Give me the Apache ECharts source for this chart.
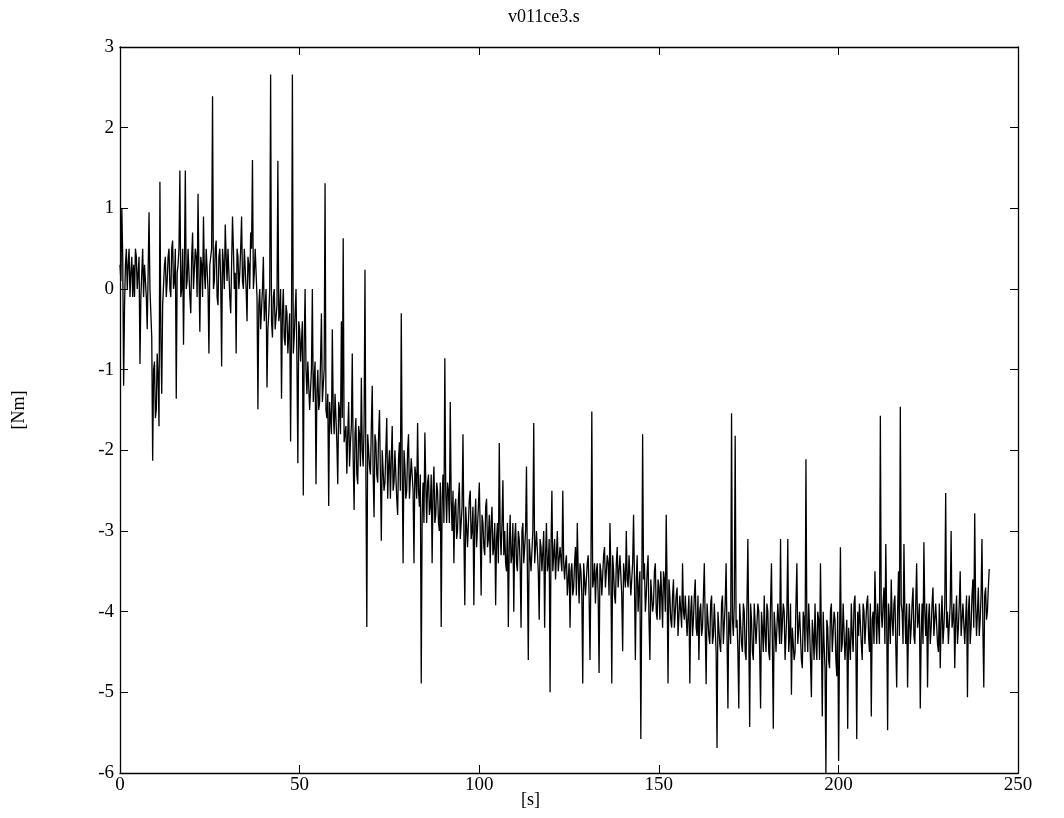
<!DOCTYPE html>
<html>
<head>
<meta charset="utf-8">
<script src="https://cdn.jsdelivr.net/npm/echarts@6/dist/echarts.min.js"></script>
<style>
  html, body { margin: 0; padding: 0; background: #fff; }
  #chart { width: 1064px; height: 818px; }
</style>
</head>
<body>
<div id="chart"></div>
<script>
// torque signal v011ce3.s, one sample every dt seconds
var dt = 0.2526;
var segA = [0.3, 0.1, 1.0, 0.4, -1.2, -0.2, 0.3, 0.5, 0.0, 0.3,
  0.5, -0.1, 0.2, 0.4, -0.1, 0.3, -0.1, 0.5, 0.4, 0.0,
  0.0, 0.4, -0.93, -0.1, 0.2, 0.5, -0.1, 0.3, 0.3, -0.1,
  -0.5, 0.2, 0.95, 0.0, -0.3, -0.6, -2.13, -1.0, -0.9, -1.6,
  -1.5, -0.8, -1.1, -1.7, 1.33, -0.6, -1.3, -0.2, -0.2, 0.3,
  0.4, -0.1, 0.1, 0.4, 0.5, 0.0, -0.1, 0.5, 0.6, 0.0,
  0.1, 0.5, -1.36, 0.2, 0.3, 0.5, 1.47, -0.1, 0.0, 0.5,
  -0.69, 0.3, 1.47, 0.0, 0.1, 0.5, 0.5, -0.1, -0.3, 0.4,
  0.7, 0.0, 0.0, 0.5, 0.4, -0.1, 1.18, 0.2];
var segB = [-0.53, 0.4, 0.3, -0.1, 0.9, 0.2, 0.0, 0.5, 0.5, 0.0,
  -0.8, 0.3, 0.4, 0.5, 2.39, 0.0, 0.1, 0.5, 0.6, -0.1,
  -0.2, 0.4, 0.5, 0.1, -0.96, 0.5, 0.3, 0.0, 0.8, 0.4,
  0.1, 0.5, 0.5, -0.1, -0.3, 0.3, 0.9, 0.5, 0.0, 0.2,
  -0.8, 0.5, 0.4, 0.0, 0.2, 0.5, 0.9, 0.1, 0.0, 0.5,
  0.5, 0.0, -0.4, 0.4, 0.3, 0.0, 0.7, 0.5, 1.6, 0.0,
  0.2, 0.5, 0.5, -0.1, -1.49, -0.2, 0.0, -0.5, -0.5, 0.0,
  0.4, -0.4, -0.2, 0.0, -1.22, -0.5, -0.3, 0.0, 2.66, -0.4];
var segC = [-0.6, -0.1, 0.0, -0.5, -0.5, -0.2, 1.59, -0.4, -0.3, 0.0,
  -1.36, -0.3, 0.0, -0.6, -0.7, -0.2, -0.3, -0.8, -0.8, -0.3,
  -1.89, -0.5, 2.66, -0.8, -0.6, -0.3, 0.0, -0.9, -2.16, -0.4,
  -0.5, -0.9, -0.9, -0.4, -2.56, -0.7, 0.0, -1.0, -1.3, -0.9,
  -0.9, -1.5, -1.5, -1.0, 0.0, -1.4, -1.1, -0.9, -2.42, -1.3,
  -1.0, -1.5, -1.4, -0.9, -0.3, -1.4, -1.2, -1.0, 1.31, -1.5,
  -1.6, -1.3, -2.69, -1.4, -1.4, -1.8, -0.5, -1.5, -1.8, -1.3,
  -1.3, -1.9, -2.42, -1.4, -1.5, -1.8, -0.4, -1.6, 0.63, -1.9];
var segD = [-1.9, -1.7, -2.29, -1.8, -1.4, -2.2, -1.9, -1.7, -0.8, -2.1,
  -2.74, -1.8, -1.6, -2.3, -2.42, -1.7, -1.8, -2.2, -1.1, -2.0,
  -2.2, -1.7, 0.24, -2.3, -4.19, -1.8, -1.8, -2.2, -2.3, -1.7,
  -1.2, -2.3, -2.83, -1.8, -1.9, -2.3, -2.4, -1.8, -1.5, -2.3,
  -3.12, -2.0, -2.0, -2.5, -2.4, -2.0, -1.6, -2.6, -2.2, -2.0,
  -2.6, -2.1, -1.7, -2.5, -2.4, -2.0, -2.0, -2.6, -2.8, -2.1,
  -1.9, -2.5, -0.3, -2.2, -3.4, -2.0, -2.2, -2.6, -2.5, -2.0,
  -1.8, -2.6, -2.6, -2.1, -2.1, -2.5, -3.4, -2.2, -2.3, -2.6];
var segE = [-1.66, -2.5, -2.7, -2.3, -4.89, -2.8, -2.4, -2.9, -1.78, -2.4,
  -2.9, -2.4, -2.3, -2.8, -2.7, -2.3, -3.4, -2.5, -2.2, -2.9,
  -2.8, -2.4, -2.5, -2.9, -3.0, -2.4, -4.19, -2.6, -2.3, -2.9,
  -0.86, -2.5, -2.9, -2.4, -2.5, -2.9, -1.4, -2.6, -3.0, -2.5,
  -3.4, -2.7, -2.6, -3.1, -3.0, -2.6, -2.4, -3.1, -2.9, -2.7,
  -1.8, -3.0, -3.92, -2.7, -2.7, -3.2, -3.2, -2.6, -2.5, -3.1,
  -3.0, -2.7, -3.92, -2.9, -2.6, -3.2, -3.2, -2.7, -2.4, -3.0,
  -3.8, -2.8, -2.9, -3.2, -3.3, -2.7, -2.6, -3.2, -3.1, -2.8];
var segF = [-3.4, -2.9, -2.7, -3.3, -3.2, -2.9, -3.92, -3.1, -2.9, -3.4,
  -1.91, -3.0, -3.3, -2.9, -2.37, -3.3, -3.0, -3.4, -3.5, -2.9,
  -4.19, -3.2, -2.8, -3.4, -3.3, -2.9, -4.0, -3.1, -2.9, -3.4,
  -3.5, -3.0, -3.1, -3.4, -4.2, -3.0, -2.9, -3.4, -3.4, -3.0,
  -2.2, -3.5, -4.6, -3.1, -3.1, -3.5, -3.5, -3.0, -1.66, -3.4,
  -3.4, -3.0, -3.0, -3.5, -4.1, -3.1, -3.2, -3.5, -3.5, -3.0,
  -4.2, -3.3, -2.9, -3.5, -3.4, -3.1, -5.0, -3.2, -2.5, -3.5,
  -3.3, -3.1, -3.6, -3.3, -3.0, -3.5, -3.5, -3.2, -3.2, -3.5];
var segG = [-2.5, -3.4, -3.6, -3.4, -3.3, -3.8, -3.8, -3.4, -4.2, -3.5,
  -3.4, -3.8, -3.7, -3.4, -3.2, -3.8, -2.9, -3.5, -3.9, -3.4,
  -3.5, -3.8, -4.89, -3.4, -3.4, -3.8, -3.8, -3.4, -3.3, -3.8,
  -4.6, -3.5, -1.52, -3.7, -3.6, -3.4, -3.9, -3.5, -3.4, -3.8,
  -4.76, -3.4, -3.5, -3.8, -3.8, -3.3, -3.2, -3.7, -3.7, -3.3,
  -3.4, -3.8, -2.9, -3.5, -4.89, -3.3, -3.5, -3.8, -3.9, -3.4,
  -3.2, -3.7, -3.7, -3.3, -3.3, -3.8, -4.49, -3.4, -3.4, -3.7,
  -3.0, -3.6, -3.7, -3.3, -3.3, -3.8, -3.8, -3.4, -2.8, -3.6];
var segH = [-4.6, -3.6, -3.3, -4.0, -3.7, -3.5, -5.58, -3.9, -1.8, -3.6,
  -3.4, -4.0, -3.8, -3.5, -3.3, -4.1, -4.6, -3.6, -3.6, -4.0,
  -3.9, -3.5, -3.4, -4.0, -4.1, -3.6, -3.7, -4.1, -3.5, -3.8,
  -4.2, -3.5, -3.6, -4.0, -2.8, -3.7, -4.89, -3.6, -3.8, -4.1,
  -4.2, -3.8, -3.6, -4.2, -4.0, -3.8, -3.7, -4.3, -4.3, -3.8,
  -3.8, -4.2, -3.4, -4.0, -4.1, -3.8, -3.8, -4.3, -4.3, -3.8,
  -4.89, -4.0, -3.8, -4.3, -4.1, -3.8, -3.6, -4.2, -4.3, -3.8,
  -4.6, -4.0, -3.9, -4.3, -4.2, -3.8, -3.4, -4.2, -4.9, -3.9];
var segI = [-3.9, -4.3, -4.4, -3.9, -3.8, -4.4, -4.3, -3.9, -3.9, -4.5,
  -5.69, -4.0, -4.0, -4.4, -4.5, -3.9, -3.8, -4.4, -4.4, -3.9,
  -3.4, -4.3, -5.2, -4.0, -4.0, -4.4, -1.54, -4.1, -4.3, -3.9,
  -1.82, -4.2, -4.1, -4.5, -5.2, -3.9, -3.9, -4.4, -4.5, -3.9,
  -4.0, -4.5, -4.6, -3.9, -3.1, -4.3, -5.43, -3.9, -4.1, -4.5,
  -4.6, -3.9, -3.9, -4.4, -4.4, -3.9, -4.0, -4.5, -5.2, -4.0,
  -4.2, -4.5, -3.8, -4.3, -4.5, -3.9, -4.0, -4.5, -4.6, -3.9,
  -3.4, -4.4, -5.45, -4.0, -4.2, -4.5, -4.5, -3.9, -3.9, -4.4];
var segJ = [-3.1, -4.4, -4.4, -3.9, -4.0, -4.6, -4.6, -4.0, -3.1, -4.5,
  -4.3, -3.9, -5.03, -4.2, -4.2, -4.6, -4.5, -3.9, -3.4, -4.4,
  -4.4, -4.0, -4.0, -4.6, -4.7, -4.0, -4.1, -4.5, -2.11, -4.2,
  -4.5, -3.9, -4.2, -4.6, -5.06, -4.1, -4.3, -4.6, -3.9, -4.4,
  -4.6, -4.0, -4.1, -4.6, -3.4, -4.3, -5.3, -4.0, -4.4, -4.7,
  -6.0, -4.1, -4.2, -4.6, -4.7, -4.0, -3.9, -4.5, -4.5, -4.0,
  -4.1, -4.6, -4.8, -4.0, -5.85, -4.4, -3.2, -4.5, -4.4, -3.9,
  -3.9, -4.6, -4.6, -4.1, -5.45, -4.2, -4.2, -4.6, -3.9, -4.3];
var segK = [-4.5, -3.9, -3.8, -4.4, -5.58, -4.0, -4.3, -3.9, -3.9, -4.4,
  -4.6, -3.9, -4.0, -4.4, -4.4, -3.9, -3.8, -4.3, -4.5, -3.9,
  -5.3, -4.1, -4.0, -4.4, -3.5, -4.0, -4.4, -3.9, -3.9, -4.4,
  -1.57, -4.0, -4.2, -3.9, -3.7, -4.4, -3.16, -4.1, -5.47, -3.9,
  -4.1, -4.4, -3.6, -4.1, -4.3, -3.9, -3.8, -4.4, -4.94, -4.0,
  -3.5, -4.3, -1.46, -3.9, -4.0, -4.4, -3.16, -4.0, -4.4, -3.9,
  -4.94, -4.2, -3.9, -4.4, -4.2, -3.9, -3.7, -4.3, -4.4, -3.9,
  -3.4, -4.2, -4.1, -3.9, -5.2, -4.3, -3.9, -4.4, -3.14, -4.0];
var segL = [-4.3, -3.9, -4.94, -4.1, -3.9, -4.4, -4.2, -3.9, -3.7, -4.3,
  -4.3, -3.9, -3.9, -4.4, -4.5, -3.9, -4.7, -4.1, -3.8, -4.4,
  -4.2, -3.9, -2.53, -4.2, -4.0, -4.4, -4.4, -3.9, -3.0, -4.2,
  -4.1, -3.9, -4.7, -4.1, -3.8, -4.4, -4.2, -3.9, -3.5, -4.3,
  -4.3, -3.9, -3.9, -4.4, -4.1, -3.8, -5.06, -4.0, -3.8, -4.4,
  -4.2, -3.8, -3.6, -4.2, -2.78, -3.9, -4.3, -4.0, -3.7, -4.3,
  -4.1, -3.8, -3.1, -4.2, -4.94, -3.8, -3.7, -4.1, -4.0, -3.7,
  -3.47];

var xTicks = [0, 50, 100, 150, 200, 250];
var yTicks = [-6, -5, -4, -3, -2, -1, 0, 1, 2, 3];

var torque = [].concat(segA, segB, segC, segD, segE, segF, segG, segH, segI, segJ, segK, segL);
var points = torque.map(function (v, i) { return [i * dt, v]; });

var serif = 'Liberation Serif';
var chart = echarts.init(document.getElementById('chart'));

var axisCommon = {
  axisLine: { show: true, onZero: false, lineStyle: { color: '#000', width: 1.3 } },
  axisTick: { show: true, inside: true, length: 8, lineStyle: { color: '#000' } },
  splitLine: { show: false }
};

chart.setOption({
  animation: false,
  backgroundColor: '#fff',
  title: {
    text: 'v011ce3.s',
    left: 503,
    top: 3,
    textStyle: { fontFamily: serif, fontWeight: 'normal', fontSize: 18, color: '#000' }
  },
  graphic: [{
    type: 'text',
    left: 521,
    top: 791,
    style: { text: '[s]', font: '18px ' + serif, fill: '#000' }
  }],
  grid: { left: 120, right: 46, top: 47, bottom: 45 },
  xAxis: [
    Object.assign({
      type: 'value', min: xTicks[0], max: xTicks[xTicks.length - 1], interval: 50, position: 'bottom',
      axisLabel: { fontFamily: serif, fontSize: 19, color: '#000', margin: 3 }
    }, axisCommon),
    Object.assign({
      type: 'value', min: xTicks[0], max: xTicks[xTicks.length - 1], interval: 50, position: 'top',
      axisLabel: { show: false }
    }, axisCommon)
  ],
  yAxis: [
    Object.assign({
      type: 'value', min: yTicks[0], max: yTicks[yTicks.length - 1], interval: 1, position: 'left',
      name: '[Nm]', nameLocation: 'middle', nameGap: 92, nameRotate: 90,
      nameTextStyle: { fontFamily: serif, fontSize: 18, color: '#000' },
      axisLabel: { fontFamily: serif, fontSize: 19, color: '#000', margin: 6 }
    }, axisCommon),
    Object.assign({
      type: 'value', min: yTicks[0], max: yTicks[yTicks.length - 1], interval: 1, position: 'right',
      axisLabel: { show: false }
    }, axisCommon)
  ],
  series: [{
    type: 'line',
    data: points,
    showSymbol: false,
    symbol: 'none',
    sampling: null,
    lineStyle: { color: '#000', width: 1.3 }
  }]
});
</script>
</body>
</html>
